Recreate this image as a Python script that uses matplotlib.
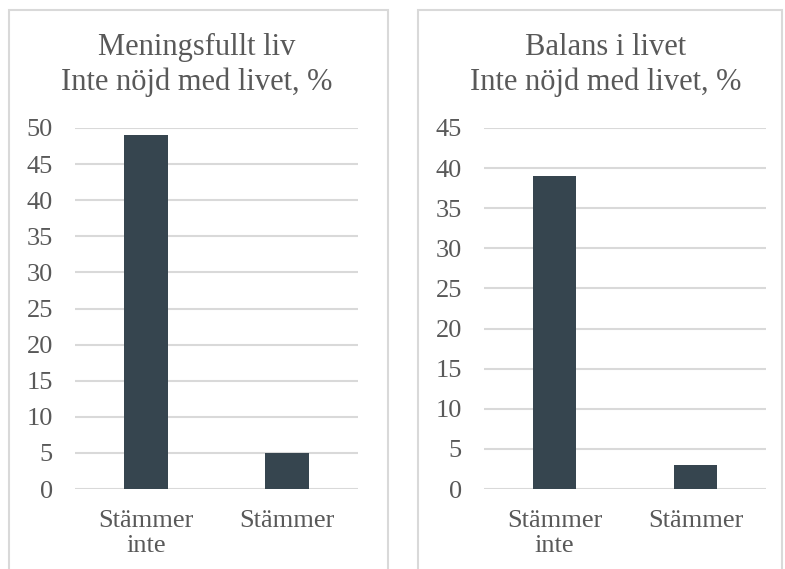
import matplotlib
matplotlib.use("Agg")
import matplotlib.pyplot as plt
from matplotlib.patches import Rectangle

# Data
categories = ["Stämmer\ninte", "Stämmer"]
meningsfullt_values = [49, 5]
balans_values = [39, 3]
titles = [("Meningsfullt liv", "Inte nöjd med livet, %"),
          ("Balans i livet", "Inte nöjd med livet, %")]
yticks_left = [0, 5, 10, 15, 20, 25, 30, 35, 40, 45, 50]
yticks_right = [0, 5, 10, 15, 20, 25, 30, 35, 40, 45]

W, H = 785, 569
BAR = "#36454F"
TEXT = "#595959"
GRID = "#D9D9D9"

plt.rcParams["font.family"] = ["Liberation Serif", "DejaVu Serif"]

fig = plt.figure(figsize=(W / 100, H / 100), dpi=100)
fig.patch.set_facecolor("white")


def fx(px):
    return px / W


def fy(py):
    return 1 - py / H


# Panel frames (run past the bottom edge)
for x0, x1 in [(9, 388), (418, 782)]:
    fig.patches.append(Rectangle((fx(x0), fy(H + 20)), fx(x1 - x0), (H + 10) / H,
                                 transform=fig.transFigure, fill=False,
                                 edgecolor=GRID, linewidth=1.5))

panels = [
    dict(left=75, right=358, top=128, vals=meningsfullt_values, ymax=50,
         ticks=yticks_left, title=titles[0], cx=197),
    dict(left=484, right=766, top=128, vals=balans_values, ymax=45,
         ticks=yticks_right, title=titles[1], cx=606),
]
zero_y = 489

for p in panels:
    ax = fig.add_axes([fx(p["left"]), fy(zero_y), fx(p["right"] - p["left"]),
                       (zero_y - p["top"]) / H])
    x = list(range(len(categories)))
    ax.bar(x, p["vals"], width=0.31, color=BAR, zorder=3)
    ax.set_xlim(-0.5, len(categories) - 0.5)
    ax.set_ylim(0, p["ymax"])
    ax.set_yticks(p["ticks"])
    ax.set_xticks(x)
    ax.set_xticklabels(categories, linespacing=1.2)
    ax.yaxis.grid(True, color=GRID, linewidth=1.5, zorder=0)
    ax.set_axisbelow(True)
    for s in ax.spines.values():
        s.set_visible(False)
    ax.tick_params(axis="both", length=0, colors=TEXT, labelsize=19)
    ax.tick_params(axis="y", pad=16)
    ax.tick_params(axis="x", pad=15)
    ax.patch.set_alpha(0)
    fig.text(fx(p["cx"]), fy(55), p["title"][0], ha="center", va="baseline",
             fontsize=22, color=TEXT)
    fig.text(fx(p["cx"]), fy(90), p["title"][1], ha="center", va="baseline",
             fontsize=22, color=TEXT)

fig.savefig("out.png", dpi=100)
